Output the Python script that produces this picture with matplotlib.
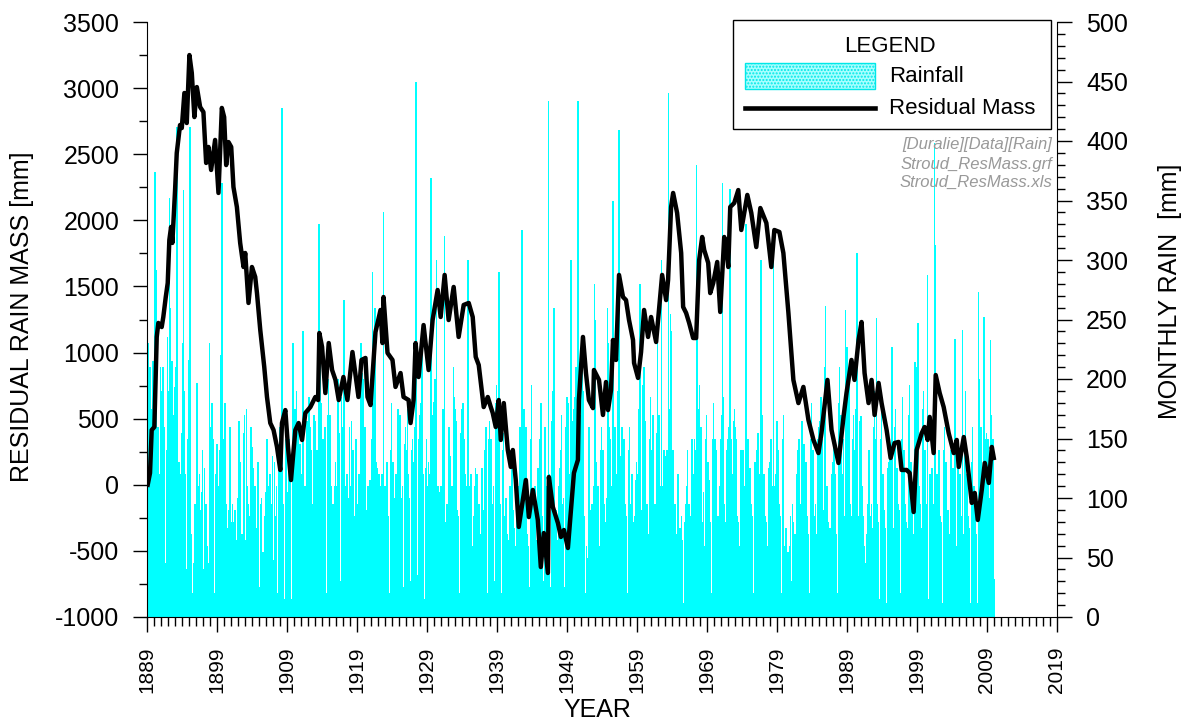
import numpy as np
import matplotlib.pyplot as plt
from matplotlib.patches import Rectangle
from matplotlib.lines import Line2D

plt.rcParams['font.family'] = ['Liberation Sans', 'DejaVu Sans']
plt.rcParams['axes.unicode_minus'] = False

first_year = 1889

# monthly rainfall [mm], Jan..Dec, one row per year
rain_mm = [
    40, 230, 185, 25, 210, 95, 175, 30, 20, 215, 150, 205,       # 1889
    374, 190, 292, 235, 70, 40, 160, 25, 120, 60, 210, 174,      # 1890
    190, 60, 210, 130, 25, 160, 45, 20, 140, 35, 235, 190,       # 1891
    170, 352, 260, 190, 40, 95, 215, 30, 60, 170, 85, 193,       # 1892
    210, 160, 412, 140, 35, 60, 130, 15, 45, 120, 155, 138,      # 1893
    230, 359, 190, 165, 25, 120, 40, 20, 150, 45, 130, 216,      # 1894
    412, 25, 15, 70, 10, 20, 8, 45, 15, 95, 40, 55,              # 1895
    197, 185, 110, 25, 15, 120, 90, 20, 40, 105, 140, 23,        # 1896
    40, 125, 30, 15, 95, 10, 60, 12, 25, 45, 230, 43,            # 1897
    160, 55, 180, 35, 20, 150, 20, 15, 110, 120, 40, 145,        # 1898
    110, 30, 20, 95, 140, 185, 220, 365, 165, 40, 150, 110,      # 1899
    180, 30, 95, 20, 10, 75, 15, 90, 130, 160, 40, 80,           # 1900
    20, 95, 15, 80, 10, 25, 90, 8, 65, 20, 100, 22,              # 1901
    165, 20, 95, 130, 30, 15, 70, 10, 25, 155, 170, 65,          # 1902
    35, 175, 110, 15, 30, 95, 12, 85, 130, 160, 50, 143,         # 1903
    125, 20, 85, 15, 110, 20, 10, 75, 35, 130, 110, 25,          # 1904
    20, 95, 15, 100, 20, 10, 55, 25, 85, 30, 105, 40,            # 1905
    150, 25, 110, 15, 90, 12, 120, 20, 95, 40, 135, 48,          # 1906
    40, 130, 20, 85, 12, 110, 15, 20, 145, 60, 160, 53,          # 1907
    140, 30, 428, 110, 20, 95, 15, 10, 120, 150, 175, 47,        # 1908
    105, 30, 150, 20, 10, 120, 15, 10, 185, 230, 200, 125,       # 1909
    175, 130, 40, 190, 25, 20, 160, 30, 110, 145, 60, 115,       # 1910
    120, 205, 240, 130, 30, 25, 110, 15, 150, 165, 45, 85,       # 1911
    185, 60, 160, 40, 140, 25, 95, 20, 120, 170, 60, 165,        # 1912
    120, 35, 140, 110, 20, 15, 330, 235, 160, 45, 180, 140,      # 1913
    150, 45, 85, 15, 160, 30, 20, 10, 125, 170, 200, 100,        # 1914
    170, 25, 15, 110, 10, 80, 95, 12, 110, 35, 130, 58,          # 1915
    110, 140, 200, 45, 25, 155, 30, 15, 185, 50, 160, 135,       # 1916
    266, 150, 25, 110, 15, 95, 120, 15, 100, 40, 160, 104,       # 1917
    110, 165, 25, 90, 140, 15, 10, 85, 120, 150, 30, 60,         # 1918
    95, 25, 120, 30, 15, 95, 230, 180, 205, 45, 200, 160,        # 1919
    160, 35, 85, 15, 90, 12, 110, 20, 95, 115, 30, 53,           # 1920
    150, 290, 230, 200, 40, 175, 260, 130, 35, 125, 40, 105,     # 1921
    120, 30, 110, 15, 95, 25, 120, 15, 340, 95, 110, 25,         # 1922
    110, 30, 130, 20, 15, 85, 20, 10, 100, 140, 180, 60,         # 1923
    130, 40, 90, 15, 100, 20, 120, 10, 160, 175, 40, 110,        # 1924
    170, 50, 100, 15, 90, 110, 15, 25, 130, 145, 160, 40,        # 1925
    140, 175, 25, 120, 15, 100, 30, 10, 115, 140, 150, 30,       # 1926
    130, 40, 160, 30, 450, 120, 35, 15, 115, 150, 170, 85,       # 1927
    180, 130, 230, 40, 20, 120, 15, 10, 95, 125, 150, 35,        # 1928
    110, 130, 25, 120, 40, 150, 369, 140, 30, 170, 35, 181,      # 1929
    200, 110, 25, 300, 95, 15, 110, 10, 30, 105, 40, 110,        # 1930
    40, 140, 175, 120, 20, 320, 80, 15, 20, 95, 55, 20,          # 1931
    160, 35, 120, 135, 25, 15, 110, 20, 210, 185, 60, 175,       # 1932
    140, 165, 30, 90, 15, 85, 10, 20, 95, 155, 175, 70,          # 1933
    180, 40, 150, 30, 120, 25, 15, 110, 160, 300, 40, 110,       # 1934
    100, 20, 120, 15, 60, 20, 10, 85, 25, 110, 125, 55,          # 1935
    120, 30, 85, 15, 95, 10, 70, 20, 105, 125, 40, 90,           # 1936
    30, 115, 140, 25, 160, 120, 15, 20, 110, 150, 165, 70,       # 1937
    150, 120, 25, 20, 95, 110, 15, 30, 135, 180, 195, 40,        # 1938
    170, 130, 290, 25, 15, 95, 10, 20, 120, 140, 155, 50,        # 1939
    85, 15, 100, 10, 70, 15, 10, 65, 90, 110, 25, 90,            # 1940
    125, 35, 90, 12, 75, 10, 60, 8, 100, 115, 30, 90,            # 1941
    110, 140, 160, 30, 120, 20, 325, 110, 35, 175, 150, 55,      # 1942
    160, 140, 30, 70, 15, 60, 10, 25, 120, 150, 195, 105,        # 1943
    95, 25, 80, 10, 110, 15, 8, 65, 90, 125, 30, 87,             # 1944
    150, 40, 180, 140, 25, 85, 15, 30, 120, 160, 150, 55,        # 1945
    110, 30, 95, 434, 120, 20, 15, 25, 140, 165, 190, 86,        # 1946
    260, 30, 85, 15, 90, 10, 65, 12, 95, 110, 125, 33,           # 1947
    140, 170, 30, 95, 15, 100, 10, 25, 120, 160, 40, 185,        # 1948
    130, 180, 40, 120, 95, 260, 300, 30, 165, 150, 45, 175,      # 1949
    185, 140, 210, 50, 130, 165, 434, 155, 190, 40, 170, 91,     # 1950
    230, 175, 190, 30, 15, 85, 10, 20, 60, 15, 50, 20,           # 1951
    160, 135, 30, 90, 20, 75, 95, 15, 110, 40, 280, 250,         # 1952
    130, 25, 95, 15, 110, 10, 60, 20, 115, 140, 160, 20,         # 1953
    140, 120, 25, 95, 20, 80, 15, 100, 260, 35, 230, 160,        # 1954
    150, 135, 30, 110, 20, 95, 350, 130, 25, 160, 120, 75,       # 1955
    120, 190, 160, 140, 409, 30, 135, 20, 115, 160, 130, 21,     # 1956
    150, 30, 95, 15, 60, 85, 10, 20, 140, 110, 160, 55,          # 1957
    95, 15, 120, 10, 80, 15, 65, 85, 20, 115, 130, 50,           # 1958
    120, 140, 175, 30, 280, 165, 25, 90, 150, 195, 40, 210,      # 1959
    165, 120, 25, 85, 95, 15, 70, 10, 140, 150, 185, 40,         # 1960
    140, 30, 170, 85, 15, 70, 95, 10, 120, 155, 230, 60,         # 1961
    170, 150, 25, 110, 20, 300, 110, 15, 95, 140, 30, 135,       # 1962
    125, 30, 140, 95, 25, 440, 110, 175, 255, 215, 240, 60,      # 1963
    140, 110, 20, 75, 95, 10, 70, 10, 100, 120, 30, 65,          # 1964
    75, 15, 60, 85, 8, 65, 12, 5, 80, 20, 95, 30,                # 1965
    110, 140, 25, 70, 95, 15, 60, 85, 20, 150, 140, 50,          # 1966
    120, 150, 30, 95, 140, 380, 245, 175, 40, 170, 195, 100,     # 1967
    160, 120, 25, 80, 20, 105, 15, 60, 125, 150, 170, 20,        # 1968
    130, 25, 115, 85, 10, 80, 20, 10, 150, 140, 180, 55,         # 1969
    150, 120, 140, 25, 20, 70, 85, 10, 110, 30, 150, 70,         # 1970
    170, 365, 185, 30, 95, 20, 80, 15, 120, 140, 30, 150,        # 1971
    160, 40, 360, 175, 150, 25, 95, 120, 30, 165, 175, 160,      # 1972
    150, 120, 20, 85, 15, 80, 10, 60, 110, 140, 130, 30,         # 1973
    140, 30, 110, 95, 20, 70, 330, 120, 15, 150, 140, 60,        # 1974
    125, 20, 95, 15, 70, 85, 10, 20, 110, 130, 40, 130,          # 1975
    140, 30, 155, 110, 20, 85, 120, 300, 35, 160, 170, 75,       # 1976
    120, 20, 85, 15, 80, 10, 60, 15, 100, 125, 130, 40,          # 1977
    150, 130, 25, 110, 20, 300, 110, 15, 120, 40, 165, 165,      # 1978
    140, 25, 95, 80, 15, 85, 10, 20, 115, 150, 170, 45,          # 1979
    60, 10, 75, 8, 40, 5, 55, 10, 60, 20, 85, 22,                # 1980
    30, 95, 15, 80, 20, 10, 70, 10, 100, 120, 140, 80,           # 1981
    150, 140, 25, 95, 15, 80, 165, 120, 20, 145, 40, 125,        # 1982
    130, 20, 85, 75, 10, 70, 15, 20, 120, 150, 180, 55,          # 1983
    140, 110, 20, 85, 15, 95, 10, 70, 125, 150, 160, 20,         # 1984
    165, 30, 185, 120, 95, 150, 25, 90, 185, 210, 261, 84,       # 1985
    110, 20, 80, 15, 60, 10, 75, 8, 100, 120, 130, 22,           # 1986
    150, 30, 120, 95, 15, 70, 20, 10, 140, 180, 210, 110,        # 1987
    170, 160, 30, 120, 105, 150, 20, 85, 258, 210, 35, 227,      # 1988
    150, 30, 195, 140, 20, 95, 85, 10, 120, 150, 170, 55,        # 1989
    140, 165, 175, 30, 306, 115, 20, 85, 140, 165, 40, 169,      # 1990
    110, 15, 85, 10, 60, 8, 45, 5, 70, 20, 95, 47,               # 1991
    140, 120, 25, 85, 15, 95, 10, 75, 120, 160, 190, 45,         # 1992
    150, 251, 30, 95, 20, 80, 15, 10, 125, 150, 175, 109,        # 1993
    120, 20, 90, 15, 60, 75, 8, 12, 100, 125, 130, 35,           # 1994
    140, 30, 115, 95, 227, 20, 75, 10, 125, 160, 175, 53,        # 1995
    125, 30, 95, 85, 15, 90, 10, 20, 120, 150, 185, 55,          # 1996
    140, 120, 25, 95, 80, 15, 75, 10, 125, 170, 195, 40,         # 1997
    130, 25, 110, 95, 20, 70, 15, 214, 160, 210, 200, 91,        # 1998
    247, 150, 30, 110, 95, 15, 75, 10, 120, 175, 190, 93,        # 1999
    140, 120, 25, 85, 95, 287, 15, 10, 100, 120, 30, 88,         # 2000
    125, 30, 95, 85, 20, 398, 313, 15, 100, 120, 40, 109,        # 2001
    140, 125, 20, 85, 15, 80, 10, 12, 110, 140, 160, 53,         # 2002
    130, 110, 25, 80, 90, 15, 10, 70, 115, 140, 150, 15,         # 2003
    125, 20, 100, 85, 234, 15, 60, 10, 100, 130, 140, 11,        # 2004
    120, 110, 25, 85, 15, 241, 70, 10, 125, 150, 190, 39,        # 2005
    120, 25, 85, 15, 60, 75, 8, 12, 100, 130, 160, 50,           # 2006
    110, 20, 85, 80, 15, 70, 10, 12, 273, 180, 200, 115,         # 2007
    160, 140, 25, 110, 20, 95, 252, 10, 120, 150, 155, 43,       # 2008
    150, 120, 25, 85, 100, 233, 170, 15, 120, 150, 100, 32,      # 2009
]

# residual rain mass [mm]
res_year = [
    1889.10, 1889.43, 1889.67, 1890.05, 1890.39, 1890.62, 1891.10, 1891.33,
    1891.68, 1891.96, 1892.19, 1892.44, 1892.62, 1893.01, 1893.25, 1893.72,
    1893.97, 1894.34, 1894.68, 1895.06, 1895.40, 1895.77, 1896.12, 1896.59,
    1897.06, 1897.45, 1897.78, 1898.16, 1898.73, 1899.21, 1899.69, 1900.02,
    1900.31, 1900.64, 1901.03, 1901.35, 1901.84, 1902.31, 1902.79, 1903.03,
    1903.50, 1903.99, 1904.46, 1904.71, 1905.18, 1905.75, 1906.14, 1906.61,
    1907.08, 1907.57, 1908.04, 1908.28, 1908.76, 1909.14, 1909.57, 1910.19,
    1910.66, 1911.15, 1911.62, 1912.34, 1913.05, 1913.44, 1913.62, 1914.01,
    1914.48, 1914.96, 1915.44, 1915.92, 1916.39, 1917.06, 1917.63, 1918.35,
    1919.21, 1919.64, 1920.21, 1920.50, 1920.93, 1921.64, 1922.36, 1922.64,
    1922.79, 1923.36, 1924.07, 1924.50, 1925.22, 1925.65, 1926.37, 1926.65,
    1927.08, 1927.37, 1927.80, 1928.51, 1929.23, 1929.80, 1930.52, 1930.95,
    1931.52, 1932.09, 1932.81, 1933.52, 1934.24, 1934.96, 1935.53, 1935.96,
    1936.39, 1937.10, 1937.68, 1938.11, 1938.39, 1938.82, 1939.25, 1939.54,
    1939.97, 1940.54, 1940.97, 1941.26, 1941.68, 1942.11, 1942.69, 1943.12,
    1943.55, 1944.12, 1944.83, 1945.26, 1945.69, 1946.27, 1946.41, 1946.98,
    1947.70, 1948.13, 1948.56, 1949.13, 1949.56, 1949.99, 1950.56, 1950.70,
    1951.28, 1951.71, 1952.13, 1952.71, 1952.85, 1953.57, 1954.14, 1954.57,
    1954.86, 1955.29, 1955.57, 1956.00, 1956.43, 1957.00, 1957.43, 1957.86,
    1958.43, 1958.58, 1959.15, 1959.58, 1960.01, 1960.58, 1961.01, 1961.73,
    1962.16, 1962.59, 1963.16, 1963.44, 1963.87, 1964.16, 1964.73, 1965.31,
    1965.59, 1966.02, 1966.45, 1967.02, 1967.45, 1967.88, 1968.31, 1968.60,
    1969.17, 1969.46, 1969.89, 1970.46, 1970.89, 1971.46, 1971.75, 1972.04,
    1972.32, 1972.89, 1973.47, 1973.90, 1974.76, 1975.33, 1976.04, 1976.62,
    1977.48, 1978.19, 1978.62, 1979.34, 1979.91, 1980.63, 1981.34, 1982.06,
    1982.77, 1983.49, 1984.21, 1984.92, 1985.35, 1986.21, 1986.79, 1987.78,
    1988.50, 1988.93, 1989.64, 1990.07, 1990.65, 1991.08, 1991.51, 1992.08,
    1992.51, 1992.94, 1993.51, 1993.94, 1994.66, 1995.23, 1995.80, 1996.37,
    1996.80, 1997.52, 1997.95, 1998.52, 1998.95, 1999.67, 2000.09, 2000.52,
    2000.81, 2001.38, 2001.67, 2002.24, 2002.81, 2003.53, 2004.25, 2004.68,
    2004.96, 2005.68, 2006.11, 2006.83, 2007.25, 2007.68, 2008.25, 2008.68,
    2009.26, 2009.69, 2009.97,
]
res_mass = [
    0, 89, 414, 437, 1118, 1224, 1193, 1269,
    1420, 1526, 1851, 1950, 1829, 2229, 2509, 2721,
    2698, 2963, 2736, 3250, 3114, 2781, 3008, 2857,
    2819, 2434, 2555, 2381, 2608, 2207, 2850, 2781,
    2418, 2592, 2555, 2252, 2101, 1829, 1647, 1753,
    1375, 1647, 1572, 1450, 1171, 891, 664, 467,
    414, 286, 112, 467, 565, 286, 36, 414,
    467, 339, 543, 588, 664, 641, 1148, 1042,
    694, 1072, 868, 793, 641, 815, 641, 1004,
    664, 944, 959, 664, 603, 1155, 1322, 1072,
    1420, 997, 944, 740, 845, 664, 641, 467,
    641, 1072, 815, 1208, 868, 1246, 1473, 1269,
    1587, 1246, 1496, 1118, 1360, 1375, 1269, 967,
    906, 588, 664, 588, 543, 437, 641, 339,
    618, 263, 135, 263, 36, -319, -115, 36,
    -244, -39, -266, -622, -365, -667, 59, -168,
    -289, -395, -342, -478, -191, 89, 188, 641,
    1118, 845, 641, 580, 868, 793, 528, 777,
    565, 717, 1095, 944, 1587, 1420, 1397, 1246,
    1095, 921, 808, 1004, 1322, 1118, 1269, 1080,
    1337, 1587, 1397, 1549, 2101, 2207, 2056, 1753,
    1345, 1299, 1224, 1110, 1110, 1700, 1874, 1776,
    1678, 1450, 1526, 1685, 1307, 1874, 1798, 1647,
    2101, 2131, 2229, 1927, 2192, 2056, 1798, 2093,
    1980, 1647, 1927, 1912, 1753, 1300, 793, 618,
    740, 490, 339, 240, 390, 793, 414, 165,
    513, 694, 944, 793, 1095, 1231, 845, 618,
    793, 528, 770, 618, 414, 203, 316, 324,
    112, 112, 89, -206, 263, 390, 437, 339,
    513, 240, 830, 694, 588, 390, 240, 339,
    135, 361, 210, -137, -62, -266, -39, 165,
    14, 286, 203,
]

month_x = first_year + np.arange(len(rain_mm)) / 12.0

W, H = 1191, 725
fig = plt.figure(figsize=(W / 100, H / 100), dpi=100)


def fx(px):
    return px / W


def fy(py):
    return 1 - py / H


ax = fig.add_axes([fx(147), fy(617), fx(1057) - fx(147), fy(22) - fy(617)])
ax2 = ax.twinx()

# rainfall bars on the right axis, residual mass on top
ax2.bar(month_x, rain_mm, width=1 / 12, align='edge', color='#00ffff',
        edgecolor='#00ffff', linewidth=0.6, antialiased=False)
ax.plot(res_year, res_mass, color='black', lw=3.2, solid_joinstyle='round')
ax.set_zorder(ax2.get_zorder() + 1)
ax.patch.set_visible(False)

ax.set_xlim(1889, 2019)
ax.set_ylim(-1000, 3500)
ax2.set_ylim(0, 500)

ax.set_xticks(range(1889, 2020, 10))
ax.set_xticks(range(1889, 2020, 1), minor=True)
ax.set_yticks(range(-1000, 3501, 500))
ax.set_yticks(range(-1000, 3501, 250), minor=True)
ax2.set_yticks(range(0, 501, 50))
ax2.set_yticks(range(0, 501, 10), minor=True)

for a in (ax, ax2):
    a.spines['top'].set_visible(False)
ax.spines['right'].set_visible(False)
ax2.spines['left'].set_visible(False)
ax2.spines['bottom'].set_visible(False)

ax.tick_params(axis='x', which='major', length=11, width=1, labelsize=15, pad=10,
               labelrotation=90)
ax.tick_params(axis='x', which='minor', length=6.5, width=1)
ax.tick_params(axis='y', which='major', length=10, width=1, labelsize=18, pad=10)
ax.tick_params(axis='y', which='minor', length=6, width=1)
ax2.tick_params(axis='y', which='major', length=11, width=1, labelsize=18, pad=10)
ax2.tick_params(axis='y', which='minor', length=6, width=1)

ax.set_xlabel('YEAR', fontsize=18)
ax.xaxis.set_label_coords((597 - 147) / 910, (617 - 698) / 595)
ax.set_ylabel('RESIDUAL RAIN MASS [mm]', fontsize=18)
ax.yaxis.set_label_coords((34 - 147) / 910, 0.505)
ax2.set_ylabel('MONTHLY RAIN  [mm]', fontsize=18)
ax2.yaxis.set_label_coords((1158 - 147) / 910, 0.548)

# legend box
fig.add_artist(Rectangle((fx(733), fy(129)), fx(1051) - fx(733), fy(20) - fy(129),
                         transform=fig.transFigure, facecolor='white',
                         edgecolor='black', lw=1))
fig.text(fx(890), fy(47), 'LEGEND', fontsize=16, ha='center', va='center')
fig.add_artist(Rectangle((fx(745), fy(89)), fx(875) - fx(745), fy(63) - fy(89),
                         transform=fig.transFigure, facecolor='#a8ffff',
                         edgecolor='#00e8e8', hatch='.....', lw=1))
fig.text(fx(889), fy(76), 'Rainfall', fontsize=16, ha='left', va='center')
fig.add_artist(Line2D([fx(745), fx(875)], [fy(108), fy(108)], transform=fig.transFigure,
                      color='black', lw=3.3))
fig.text(fx(889), fy(108), 'Residual Mass', fontsize=16, ha='left', va='center')

for txt, py in [('[Duralie][Data][Rain]', 145), ('Stroud_ResMass.grf', 164),
                ('Stroud_ResMass.xls', 182)]:
    fig.text(fx(1052), fy(py), txt, fontsize=12, style='italic', color='#999999',
             ha='right', va='center')

fig.savefig('out.png', dpi=100)
